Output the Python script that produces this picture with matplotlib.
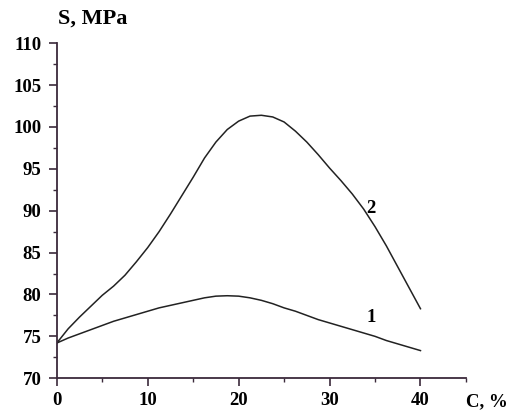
import numpy as np
import matplotlib
matplotlib.use("Agg")
import matplotlib.pyplot as plt
from matplotlib.ticker import MultipleLocator

# concentration C, %
c = [0, 1.25, 2.5, 3.75, 5, 6.25, 7.5, 8.75, 10, 11.25, 12.5, 13.75, 15, 16.25, 17.5, 18.75,
     20, 21.25, 22.5, 23.75, 25, 26.25, 27.5, 28.75, 30, 31.25, 32.5, 33.75, 35, 36.25, 37.5, 38.75, 40]
# curve 1 and curve 2, S in MPa
s1 = [74.2, 74.8, 75.3, 75.8, 76.3, 76.8, 77.2, 77.6, 78.0, 78.4, 78.7, 79.0, 79.3, 79.6, 79.8, 79.85,
      79.8, 79.6, 79.3, 78.9, 78.4, 78.0, 77.5, 77.0, 76.6, 76.2, 75.8, 75.4, 75.0, 74.5, 74.1, 73.7, 73.3]
s2 = [74.2, 75.9, 77.3, 78.6, 79.9, 81.0, 82.3, 83.9, 85.6, 87.5, 89.6, 91.8, 94.0, 96.3, 98.2, 99.7,
      100.7, 101.3, 101.4, 101.2, 100.6, 99.5, 98.2, 96.7, 95.1, 93.6, 92.0, 90.2, 88.1, 85.8, 83.3, 80.8, 78.3]

xticks = [0, 10, 20, 30, 40]
yticks = [70, 75, 80, 85, 90, 95, 100, 105, 110]

plt.rcParams['font.family'] = ['Liberation Serif', 'DejaVu Serif']
plt.rcParams['font.weight'] = 'bold'

fig = plt.figure(figsize=(5.07, 4.12), dpi=100)
ax = fig.add_axes([0.112, 0.082, 0.807, 0.813])

ax.plot(c, s1, color='#222222', lw=1.1)
ax.plot(c, s2, color='#222222', lw=1.1)

ax.text(34.6, 77.2, '1', fontsize=13.5, fontweight='bold', ha='center', va='center')
ax.text(34.6, 90.3, '2', fontsize=13.5, fontweight='bold', ha='center', va='center')

ax.set_xlim(0, 45)
ax.set_ylim(70, 110)
ax.set_xticks(xticks)
ax.set_yticks(yticks)
ax.xaxis.set_minor_locator(MultipleLocator(5))
ax.yaxis.set_minor_locator(MultipleLocator(2.5))

axis_col = '#3b2a3b'
for side in ['top', 'right']:
    ax.spines[side].set_visible(False)
for side in ['left', 'bottom']:
    ax.spines[side].set_color(axis_col)
    ax.spines[side].set_linewidth(1.3)

ax.tick_params(which='major', direction='out', length=6, width=1.2, color=axis_col,
               labelsize=13.5, pad=4)
ax.tick_params(which='minor', direction='out', length=3, width=1.0, color=axis_col)
ax.tick_params(axis='y', which='major', pad=5)
for lab in ax.get_xticklabels() + ax.get_yticklabels():
    lab.set_fontweight('bold')

fig.text(0.183, 0.955, 'S, MPa', fontsize=16, fontweight='bold', ha='center', va='center')
fig.text(0.961, 0.024, 'C, %', fontsize=13.5, fontweight='bold', ha='center', va='center')

fig.savefig('out.png', dpi=100)
